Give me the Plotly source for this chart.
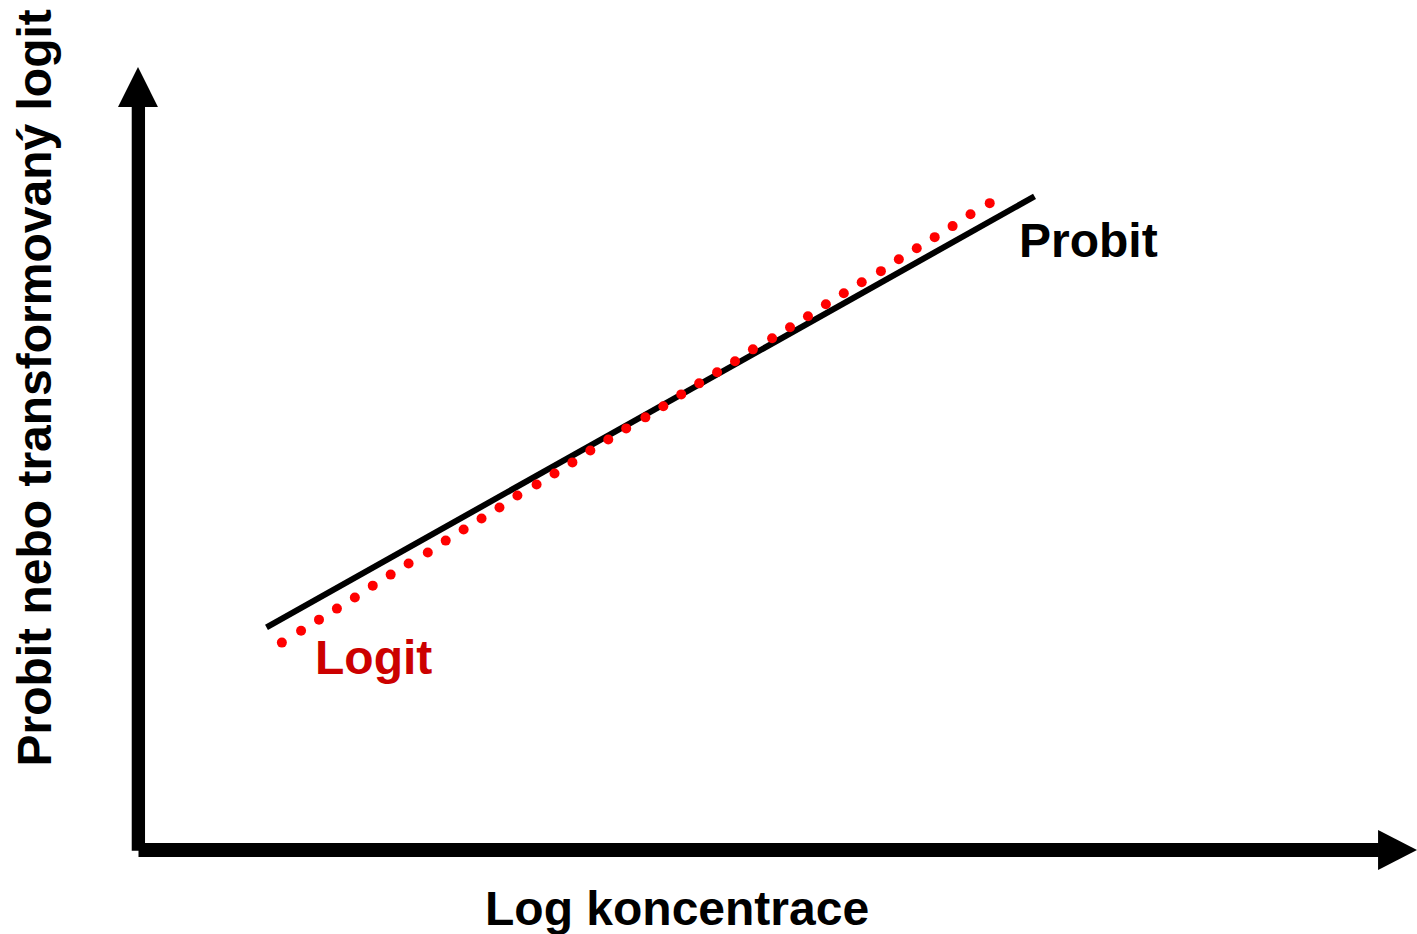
import plotly.graph_objects as go

# Probit line (straight fit) – log concentration vs probit
probit_x = [1.00, 7.00]
probit_y = [2.62, 7.69]

# Logit (transformed) shown as a dotted series
logit_x = [1.12, 1.27, 1.41, 1.55, 1.69, 1.83, 1.97, 2.11, 2.26, 2.40,
           2.54, 2.68, 2.82, 2.96, 3.11, 3.25, 3.39, 3.53, 3.67, 3.81,
           3.96, 4.10, 4.24, 4.38, 4.52, 4.66, 4.80, 4.95, 5.09, 5.23,
           5.37, 5.51, 5.65, 5.80, 5.94, 6.08, 6.22, 6.36, 6.50, 6.65]
logit_y = [2.44, 2.58, 2.71, 2.84, 2.97, 3.11, 3.24, 3.37, 3.50, 3.64,
           3.77, 3.90, 4.03, 4.17, 4.30, 4.43, 4.56, 4.70, 4.83, 4.96,
           5.09, 5.22, 5.36, 5.49, 5.62, 5.75, 5.89, 6.02, 6.15, 6.28,
           6.42, 6.55, 6.68, 6.81, 6.95, 7.08, 7.21, 7.34, 7.48, 7.61]

x_title = "Log koncentrace"
y_title = "Probit nebo transformovaný logit"
probit_label = "Probit"
logit_label = "Logit"

FONT = "Liberation Sans, Arial, sans-serif"

fig = go.Figure()

fig.add_trace(go.Scatter(x=probit_x, y=probit_y, mode="lines",
                         line=dict(color="black", width=6),
                         hoverinfo="skip", showlegend=False))
fig.add_trace(go.Scatter(x=logit_x, y=logit_y, mode="markers",
                         marker=dict(color="#ff0000", size=10, line=dict(width=0)),
                         hoverinfo="skip", showlegend=False))

# Axes drawn as thick arrows
shapes = [
    dict(type="rect", xref="x", yref="y", x0=-0.053, x1=0.051, y0=-0.01, y1=8.75,
         fillcolor="black", line=dict(width=0)),
    dict(type="rect", xref="x", yref="y", x0=0.0, x1=9.69, y0=-0.082, y1=0.082,
         fillcolor="black", line=dict(width=0)),
    dict(type="path", xref="x", yref="y",
         path="M -0.160 8.741 L 0.152 8.741 L -0.004 9.212 Z",
         fillcolor="black", line=dict(width=0)),
    dict(type="path", xref="x", yref="y",
         path="M 9.684 0.235 L 9.684 -0.235 L 9.988 0 Z",
         fillcolor="black", line=dict(width=0)),
]

bold = dict(family=FONT, size=48, color="black", weight="bold")
annotations = [
    dict(x=6.86, y=7.165, xref="x", yref="y", text=probit_label, showarrow=False,
         xanchor="left", yanchor="middle", font=bold),
    dict(x=1.36, y=2.27, xref="x", yref="y", text=logit_label, showarrow=False,
         xanchor="left", yanchor="middle", font=dict(bold, color="#cc0000")),
    dict(x=4.207, y=-0.69, xref="x", yref="y", text=x_title, showarrow=False,
         xanchor="center", yanchor="middle", font=bold),
    dict(x=-0.82, y=5.435, xref="x", yref="y", text=y_title, showarrow=False,
         textangle=-90, xanchor="center", yanchor="middle", font=bold),
]

fig.update_layout(
    width=1417, height=934,
    margin=dict(l=0, r=0, t=0, b=0),
    paper_bgcolor="white", plot_bgcolor="white",
    xaxis=dict(range=[-1.082, 9.988], visible=False, fixedrange=True),
    yaxis=dict(range=[-0.988, 10.0], visible=False, fixedrange=True),
    shapes=shapes, annotations=annotations,
    showlegend=False,
)

fig.write_html(
    "out.html",
    config={"displayModeBar": False},
    post_script="document.body.style.margin='0';document.body.style.overflow='hidden';",
)
